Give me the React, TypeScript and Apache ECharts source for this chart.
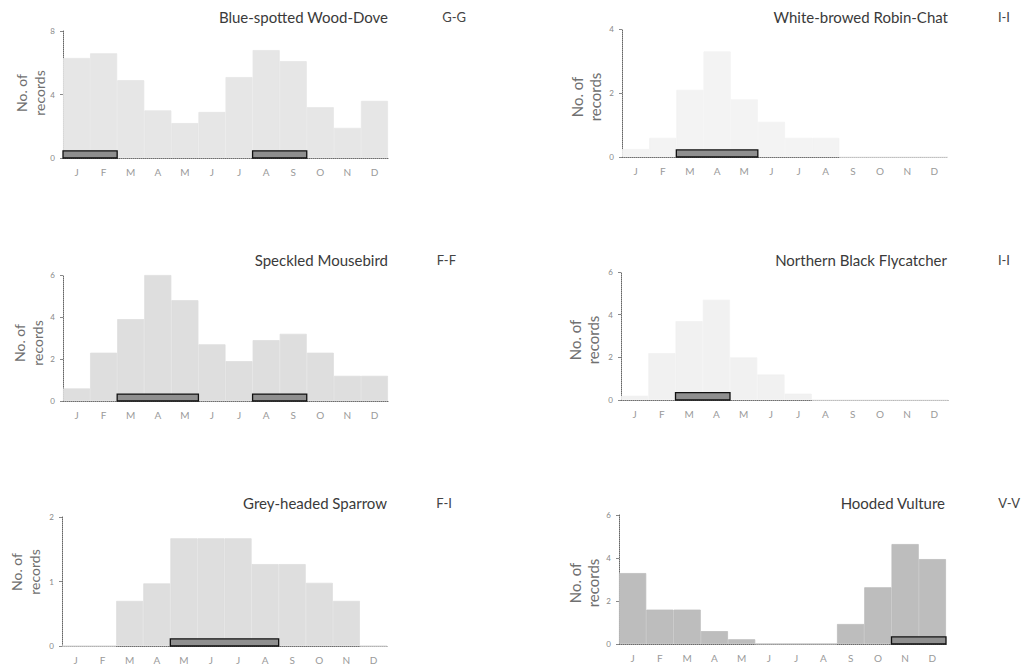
import React, { useEffect, useRef } from "react";
import * as echarts from "echarts";

const months = ["J", "F", "M", "A", "M", "J", "J", "A", "S", "O", "N", "D"];
const titles = [
  "Blue-spotted Wood-Dove",
  "White-browed Robin-Chat",
  "Speckled Mousebird",
  "Northern Black Flycatcher",
  "Grey-headed Sparrow",
  "Hooded Vulture",
];
const codes = ["G-G", "I-I", "F-F", "I-I", "F-I", "V-V"];

const woodDove = [6.3, 6.6, 4.9, 3.0, 2.2, 2.9, 5.1, 6.8, 6.1, 3.2, 1.9, 3.6];
const robinChat = [0.25, 0.6, 2.1, 3.3, 1.8, 1.1, 0.6, 0.6, 0, 0, 0, 0];
const mousebird = [0.6, 2.3, 3.9, 6.0, 4.8, 2.7, 1.9, 2.9, 3.2, 2.3, 1.2, 1.2];
const flycatcher = [0.2, 2.2, 3.7, 4.7, 2.0, 1.2, 0.3, 0, 0, 0, 0, 0];
const sparrow = [0, 0, 0.7, 0.97, 1.67, 1.67, 1.67, 1.27, 1.27, 0.98, 0.7, 0];
const vulture = [3.3, 1.6, 1.6, 0.6, 0.22, 0, 0, 0, 0.93, 2.64, 4.65, 3.95];

// breeding periods: [start month index, end month index, bar height]
const woodDoveBreeding = [[0, 1, 0.45], [7, 8, 0.45]];
const robinChatBreeding = [[2, 4, 0.22]];
const mousebirdBreeding = [[2, 4, 0.33], [7, 8, 0.33]];
const flycatcherBreeding = [[2, 3, 0.35]];
const sparrowBreeding = [[4, 7, 0.11]];
const vultureBreeding = [[10, 11, 0.33]];

const yMax = [8, 4, 6, 6, 2, 6];
const yInterval = [4, 2, 2, 2, 1, 2];

const panelValues = [woodDove, robinChat, mousebird, flycatcher, sparrow, vulture];
const panelBreeding = [
  woodDoveBreeding,
  robinChatBreeding,
  mousebirdBreeding,
  flycatcherBreeding,
  sparrowBreeding,
  vultureBreeding,
];

const grids = [
  { left: 63, top: 31, width: 325, height: 127 },
  { left: 622, top: 29, width: 326, height: 128 },
  { left: 63, top: 275, width: 325, height: 126 },
  { left: 621, top: 272, width: 327, height: 128 },
  { left: 62, top: 517, width: 325, height: 129 },
  { left: 619, top: 515, width: 327, height: 129 },
];
const fills = ["#e6e6e6", "#f3f3f3", "#dedede", "#f1f1f1", "#dedede", "#bdbdbd"];
const titlePos = [
  [388, 17], [948, 17], [388, 260], [947, 260], [387, 503], [945, 503],
];
const codePos = [
  [466, 17], [1010, 17], [456, 260], [1010, 260], [452, 503], [1020, 503],
];
const yNamePos = [
  [30, 93], [586, 97], [28, 343], [584, 340], [25, 572], [584, 583],
];

const FONT = "Lato, 'Open Sans', sans-serif";

export default function App() {
  const ref = useRef<HTMLDivElement>(null);
  useEffect(() => {
    if (!ref.current) return;
    const chart = echarts.init(ref.current, undefined, { renderer: "svg" });

    const gridOpts = grids.map((g) => ({ ...g, containLabel: false }));
    const xAxes = grids.map((_, i) => ({
      type: "category",
      gridIndex: i,
      data: months,
      boundaryGap: true,
      axisLine: { show: true, lineStyle: { type: "dotted", color: "#666", width: 1 } },
      axisTick: { show: false },
      axisLabel: { interval: 0, color: "#9a9a9a", fontSize: 10, fontFamily: FONT, margin: 9 },
      splitLine: { show: false },
    }));
    const yAxes = grids.map((_, i) => ({
      type: "value",
      gridIndex: i,
      min: 0,
      max: yMax[i],
      interval: yInterval[i],
      axisLine: { show: true, lineStyle: { type: "dotted", color: "#666", width: 1 } },
      axisTick: { show: true, length: 3, lineStyle: { color: "#888" } },
      axisLabel: { color: "#888", fontSize: 8, fontFamily: FONT, margin: 8 },
      splitLine: { show: false },
    }));

    const series: any[] = [];
    panelValues.forEach((vals, i) => {
      series.push({
        type: "bar",
        xAxisIndex: i,
        yAxisIndex: i,
        data: vals,
        barWidth: "100%",
        barCategoryGap: 0,
        itemStyle: { color: fills[i], borderColor: fills[i], borderWidth: 0.8 },
        silent: true,
        z: 1,
      });
      series.push({
        type: "custom",
        xAxisIndex: i,
        yAxisIndex: i,
        data: panelBreeding[i],
        encode: { x: [0, 1], y: 2 },
        z: 3,
        silent: true,
        renderItem: (params: any, api: any) => {
          const s = api.value(0);
          const e = api.value(1);
          const h = api.value(2);
          const p0 = api.coord([s, 0]);
          const p1 = api.coord([e, h]);
          const w = api.size([1, 0])[0];
          return {
            type: "rect",
            shape: {
              x: p0[0] - w / 2,
              y: p1[1],
              width: p1[0] - p0[0] + w,
              height: p0[1] - p1[1],
            },
            style: { fill: "#8f8f8f", stroke: "#111", lineWidth: 1.3 },
          };
        },
      });
    });

    const graphics: any[] = [];
    titles.forEach((t, i) => {
      graphics.push({
        type: "text",
        x: titlePos[i][0],
        y: titlePos[i][1],
        style: {
          text: t,
          align: "right",
          verticalAlign: "middle",
          fontSize: 15,
          fontFamily: FONT,
          fill: "#3a3a3a",
        },
      });
      graphics.push({
        type: "text",
        x: codePos[i][0],
        y: codePos[i][1],
        style: {
          text: codes[i],
          align: "right",
          verticalAlign: "middle",
          fontSize: 13,
          fontFamily: FONT,
          fill: "#444",
        },
      });
      graphics.push({
        type: "text",
        x: yNamePos[i][0],
        y: yNamePos[i][1],
        rotation: Math.PI / 2,
        style: {
          text: "No. of\nrecords",
          align: "center",
          verticalAlign: "middle",
          fontSize: i % 2 === 1 ? 15 : 14,
          lineHeight: 18,
          fontFamily: FONT,
          fill: "#707070",
        },
      });
    });

    chart.setOption({
      animation: false,
      backgroundColor: "#ffffff",
      grid: gridOpts,
      xAxis: xAxes,
      yAxis: yAxes,
      series,
      graphic: graphics,
    });
    return () => chart.dispose();
  }, []);

  return (
    <div
      ref={ref}
      style={{ position: "fixed", left: 0, top: 0, width: 1023, height: 665 }}
    />
  );
}
